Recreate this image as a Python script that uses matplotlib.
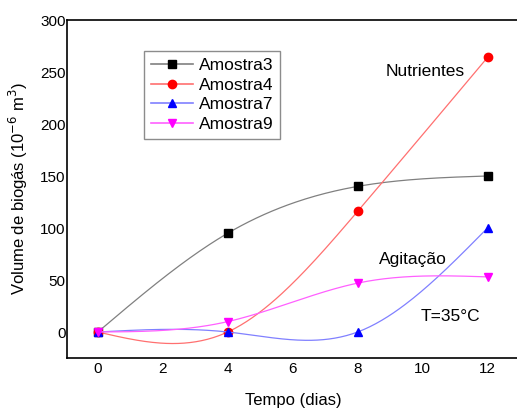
import numpy as np
import matplotlib.pyplot as plt

plt.rcParams['font.family'] = ['Liberation Sans', 'DejaVu Sans']

dias = [0, 4, 8, 12]
amostra3 = [0, 95, 140, 150]
amostra4 = [0, 0, 116, 264]
amostra7 = [0, 0, 0, 100]
amostra9 = [0, 10, 47, 53]


def spline(x, y, n=200):
    # natural cubic spline through the points
    x = np.asarray(x, float)
    y = np.asarray(y, float)
    h = np.diff(x)
    k = len(x)
    A = np.zeros((k, k))
    b = np.zeros(k)
    A[0, 0] = A[-1, -1] = 1
    for i in range(1, k - 1):
        A[i, i - 1] = h[i - 1]
        A[i, i] = 2 * (h[i - 1] + h[i])
        A[i, i + 1] = h[i]
        b[i] = 6 * ((y[i + 1] - y[i]) / h[i] - (y[i] - y[i - 1]) / h[i - 1])
    M = np.linalg.solve(A, b)
    xs = np.linspace(x[0], x[-1], n)
    j = np.clip(np.searchsorted(x, xs) - 1, 0, k - 2)
    a = x[j + 1] - xs
    c = xs - x[j]
    hj = h[j]
    ys = (M[j] * a**3 + M[j + 1] * c**3) / (6 * hj) \
        + (y[j] / hj - M[j] * hj / 6) * a + (y[j + 1] / hj - M[j + 1] * hj / 6) * c
    return xs, ys


fig = plt.figure(figsize=(5.17, 4.08), dpi=100)
ax = fig.add_axes([67 / 517, 1 - 358 / 408, 453 / 517, 338 / 408])

series = [
    ("Amostra3", amostra3, "black", "#808080", "s"),
    ("Amostra4", amostra4, "red", "#ff7070", "o"),
    ("Amostra7", amostra7, "blue", "#8080ff", "^"),
    ("Amostra9", amostra9, "magenta", "#ff60ff", "v"),
]
for name, vals, mc, lc, mk in series:
    xs, ys = spline(dias, vals)
    ax.plot(xs, ys, color=lc, lw=0.9)
    ax.plot(dias, vals, linestyle="none", marker=mk, color=mc, ms=6)
    ax.plot([], [], color=lc, lw=1.2, marker=mk, mfc=mc, mec=mc, ms=6, label=name)

ax.set_xlim(-0.95, 13)
ax.set_ylim(-25, 300)
ax.set_xticks([0, 2, 4, 6, 8, 10, 12])
ax.set_yticks([0, 50, 100, 150, 200, 250, 300])
ax.tick_params(length=0, labelsize=11, pad=3)
ax.tick_params(axis='y', pad=1)
for s in ax.spines.values():
    s.set_linewidth(1.2)

ax.set_xlabel("Tempo (dias)", fontsize=12, labelpad=12)
ax.set_ylabel("Volume de biogás (10$^{-6}$ m$^3$)", fontsize=12, labelpad=7)

ax.text(8.85, 250, "Nutrientes", fontsize=12.5, va="center")
ax.text(8.65, 70, "Agitação", fontsize=12.5, va="center")
ax.text(9.95, 15, "T=35°C", fontsize=12.5, va="center")

leg = ax.legend(loc="upper left", bbox_to_anchor=(77 / 453, 1 - 31 / 338), fontsize=12.5,
                frameon=True, fancybox=False, edgecolor="#707070", handlelength=2.4,
                borderpad=0.4, labelspacing=0.25, handletextpad=0.35, borderaxespad=0)
leg.get_frame().set_linewidth(1.0)

fig.savefig("out.png", dpi=100)
